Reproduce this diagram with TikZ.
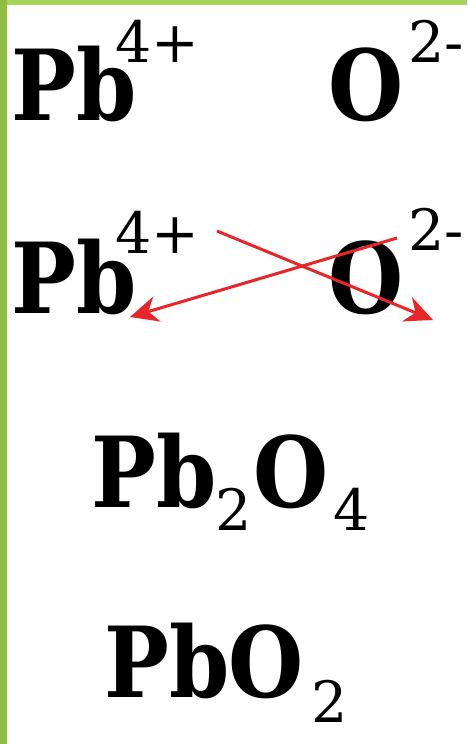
\documentclass[tikz,border=0pt]{standalone}
\usepackage{fontspec}
\setmainfont{DejaVu Serif}
\newfontfamily\narrowserif{DejaVu Serif}[FakeStretch=0.88]
\usetikzlibrary{arrows.meta}
\definecolor{topgreen}{HTML}{A8D45C}
\definecolor{leftgreen}{HTML}{8FBE45}
\definecolor{arrowred}{HTML}{E8262A}
\tikzset{
  big/.style={anchor=base west,inner sep=0pt,font=\narrowserif\fontsize{98}{100}\selectfont\bfseries},
  small/.style={anchor=base west,inner sep=0pt,font=\fontsize{57}{60}\selectfont},
  redarrow/.style={draw=arrowred,line width=3pt,-{Stealth[length=28pt,width=26pt,inset=9pt]}}
}
\begin{document}
\begin{tikzpicture}[x=1pt,y=-1pt]
\useasboundingbox (0,0) rectangle (467,744);
\fill[white] (0,0) rectangle (467,744);
\fill[topgreen] (0,0) rectangle (467,5);
\fill[leftgreen] (0,0) rectangle (7,744);
% row 1
\node[big] (pba) at (11,120) {Pb};
\node[small] (pbsa) at (115,62) {4+};
\node[big] (oa) at (328,120) {O};
\node[small] (osa) at (408,62) {2-};
% row 2
\node[big] (pbb) at (11,313) {Pb};
\node[small] (pbsb) at (115,253) {4+};
\node[big] (ob) at (328,313) {O};
\node[small] (osb) at (408,250) {2-};
\coordinate (a1s) at (217,231);
\coordinate (a1e) at (433,320);
\coordinate (a2s) at (397,238);
\coordinate (a2e) at (130,317);
\draw[redarrow] (a1s) -- (a1e);
\draw[redarrow] (a2s) -- (a2e);
% row 3
\node[big] (pbc) at (91,507) {Pb};
\node[small] (twoc) at (215,530) {2};
\node[big] (oc) at (253,507) {O};
\node[small] (fourc) at (333,530) {4};
% row 4
\node[big] (pbd) at (104,697) {Pb};
\node[big] (od) at (228,697) {O};
\node[small] (twod) at (311,722) {2};
\end{tikzpicture}
\end{document}
